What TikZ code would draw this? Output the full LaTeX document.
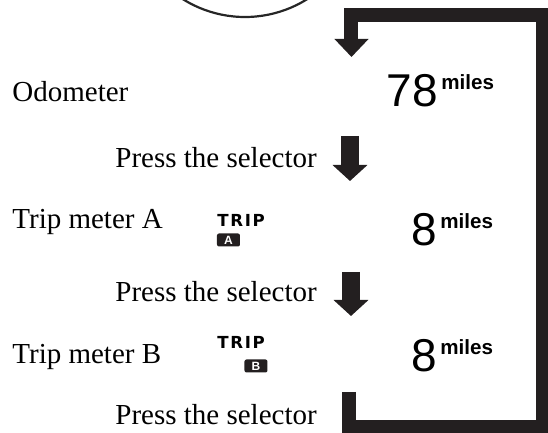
\documentclass[tikz,border=0pt]{standalone}
\usepackage{fontspec}
\setmainfont{Liberation Serif}
\newfontfamily\segfont{Liberation Sans}
\newfontfamily\tripfont[LetterSpace=10]{DejaVu Sans}
\usetikzlibrary{arrows.meta,positioning}
\definecolor{barcol}{HTML}{231F20}

\tikzset{
  item/.style={anchor=base west, inner sep=0pt, font=\fontsize{14.5}{17}\selectfont},
  digits/.style={anchor=base east, inner sep=0pt, font=\segfont\fontsize{23}{26}\selectfont},
  miles/.style={inner sep=0pt, font=\segfont\bfseries\fontsize{10.3}{12}\selectfont},
  tripword/.style={anchor=base west, inner sep=0pt, font=\tripfont\bfseries\fontsize{8.3}{10}\selectfont},
  tripbox/.style={fill=barcol, text=white, rounded corners=1pt, minimum width=11.5pt,
    minimum height=6.5pt, inner sep=0pt, font=\segfont\bfseries\fontsize{6}{7}\selectfont},
  blockarrow/.style={draw=barcol, line width=9pt, -{Triangle[width=17pt,length=8pt]}},
  loopbar/.style={draw=barcol, line width=7pt, line join=miter, -{Triangle[width=16.5pt,length=9pt]}},
  dialarc/.style={draw=black!85, line width=1.1pt}
}

\begin{document}
\begin{tikzpicture}[x=0.5pt,y=-0.5pt]
  \useasboundingbox (0,0) rectangle (548,433);
  \clip (0,0) rectangle (548,433);

  % selector knob
  \draw[dialarc] (245,-100) circle[radius=117];

  % odometer
  \node[item] (odo) at (12,102) {Odometer};
  \node[digits] (odonum) at (438,107) {78};
  \node[miles, right=1.5pt of odonum.north east, anchor=north west] (odomi) {miles};
  \node[item] (press1) at (115,168) {Press the selector};

  % trip meter A
  \node[item] (tripa) at (12,229) {Trip meter A};
  \node[tripword] (tripaw) at (217,227) {TRIP};
  \node[tripbox] (tripab) at (228.5,240) {A};
  \node[digits] (tripanum) at (437,246) {8};
  \node[miles, right=1.5pt of tripanum.north east, anchor=north west] (tripami) {miles};
  \node[item] (press2) at (115,302) {Press the selector};

  % trip meter B
  \node[item] (tripb) at (12,364) {Trip meter B};
  \node[tripword] (tripbw) at (217,349) {TRIP};
  \node[tripbox] (tripbb) at (256,366) {B};
  \node[digits] (tripbnum) at (437,372) {8};
  \node[miles, right=1.5pt of tripbnum.north east, anchor=north west] (tripbmi) {miles};
  \node[item] (press3) at (115,425) {Press the selector};

  % arrows
  \coordinate (a1top) at (350,136);
  \coordinate (a1tip) at (350,181);
  \coordinate (a2top) at (351,272);
  \coordinate (a2tip) at (351,316);
  \draw[blockarrow] (a1top) -- (a1tip);
  \draw[blockarrow] (a2top) -- (a2tip);

  % back to the start
  \coordinate (back) at (349.5,392);
  \coordinate (botright) at (543,427);
  \coordinate (topright) at (543,15.5);
  \coordinate (restart) at (351.5,57);
  \draw[loopbar] (back) |- (botright) -- (topright) -| (restart);
\end{tikzpicture}
\end{document}
